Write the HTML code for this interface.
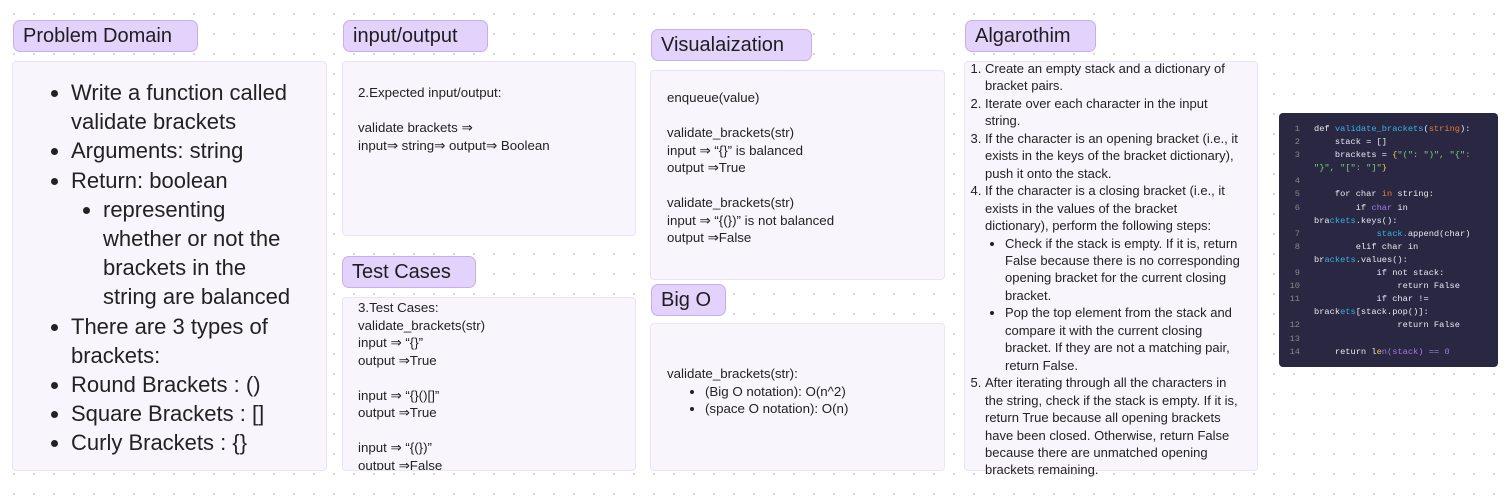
<!DOCTYPE html>
<html><head><meta charset="utf-8"><style>
body{margin:0;width:1510px;height:498px;background:#fff;position:relative;overflow:hidden;font-family:"Liberation Sans",sans-serif;color:#222;
background-image:radial-gradient(circle,#d4d4dc 1px,transparent 1.2px);background-size:20px 20px;background-position:4px 4px}
.tag{position:absolute;background:#e3d2fb;border:1px solid #c8aef0;border-radius:7px;font-size:20px;line-height:30px;padding:0 9px;box-sizing:border-box;height:32px;color:#1e1e1e}
.card{position:absolute;background:#f8f5fd;border:1px solid #ebe3f7;border-radius:4px;box-sizing:border-box;font-size:13.3px;line-height:17.5px;color:#222}
ul,ol{margin:0}
ul{list-style:disc}
ul ul,ol ul{list-style:disc}
.alg{white-space:nowrap;font-size:13px;line-height:17.45px}
.code{position:absolute;left:1279px;top:113px;width:219px;height:254px;background:#2a2742;border-radius:4px;font-family:"Liberation Mono",monospace;font-size:8.7px;line-height:13.1px;color:#e8e8f0;padding:10px 0 0 0;box-sizing:border-box}
.code div{white-space:pre;position:relative;padding-left:35px}
.code span.n{position:absolute;left:6px;color:#888;width:15px;text-align:right}
.b{color:#3ab0e0}.o{color:#e07a3a}.p{color:#a07be0}.y{color:#e8c84a}.g{color:#7ed07e}
</style></head><body>
<div class="tag" style="left:13px;top:20px;width:185px">Problem Domain</div>
<div class="card" style="left:12px;top:61px;width:315px;height:410px;font-size:22px;line-height:29.2px;padding:16px 26px 0 0">
<ul style="padding-left:58px">
<li>Write a function called validate brackets</li>
<li>Arguments: string</li>
<li>Return: boolean<ul style="padding-left:32px"><li>representing whether or not the brackets in the string are balanced</li></ul></li>
<li>There are 3 types of brackets:</li>
<li>Round Brackets : ()</li>
<li>Square Brackets : []</li>
<li>Curly Brackets : {}</li>
</ul></div>

<div class="tag" style="left:343px;top:20px;width:145px">input/output</div>
<div class="card" style="left:342px;top:61px;width:294px;height:175px;padding:22px 0 0 15px">2.Expected input/output:<br><br>validate brackets ⇒<br>input⇒ string⇒ output⇒ Boolean</div>

<div class="tag" style="left:342px;top:256px;width:134px">Test Cases</div>
<div class="card" style="left:342px;top:297px;width:294px;height:174px;padding:1px 0 0 15px;overflow:hidden">3.Test Cases:<br>validate_brackets(str)<br>input ⇒ “{}”<br>output ⇒True<br><br>input ⇒ “{}()[]”<br>output ⇒True<br><br>input ⇒ “{(})”<br>output ⇒False</div>

<div class="tag" style="left:651px;top:29px;width:161px">Visualaization</div>
<div class="card" style="left:650px;top:70px;width:295px;height:210px;padding:18px 0 0 16px">enqueue(value)<br><br>validate_brackets(str)<br>input ⇒ “{}” is balanced<br>output ⇒True<br><br>validate_brackets(str)<br>input ⇒ “{(})” is not balanced<br>output ⇒False</div>

<div class="tag" style="left:651px;top:284px;width:75px">Big O</div>
<div class="card" style="left:650px;top:323px;width:295px;height:148px;padding:41px 0 0 16px">validate_brackets(str):<ul style="padding-left:38px"><li>(Big O notation): O(n^2)</li><li>(space O notation): O(n)</li></ul></div>

<div class="tag" style="left:965px;top:20px;width:131px">Algarothim</div>
<div class="card alg" style="left:964px;top:61px;width:294px;height:410px">
<ol style="padding-left:20px;margin-top:-2px">
<li>Create an empty stack and a dictionary of<br>bracket pairs.</li>
<li>Iterate over each character in the input<br>string.</li>
<li>If the character is an opening bracket (i.e., it<br>exists in the keys of the bracket dictionary),<br>push it onto the stack.</li>
<li>If the character is a closing bracket (i.e., it<br>exists in the values of the bracket<br>dictionary), perform the following steps:<ul style="padding-left:20px;list-style-type:disc"><li>Check if the stack is empty. If it is, return<br>False because there is no corresponding<br>opening bracket for the current closing<br>bracket.</li><li>Pop the top element from the stack and<br>compare it with the current closing<br>bracket. If they are not a matching pair,<br>return False.</li></ul></li>
<li>After iterating through all the characters in<br>the string, check if the stack is empty. If it is,<br>return True because all opening brackets<br>have been closed. Otherwise, return False<br>because there are unmatched opening<br>brackets remaining.</li>
</ol></div>

<div class="code">
<div><span class="n">1</span>def <span class="b">validate_brackets</span>(<span class="o">string</span>):</div>
<div><span class="n">2</span>    stack = []</div>
<div><span class="n">3</span>    brackets = <span class="y">{</span><span class="g">"(": ")", "{":</span></div>
<div><span class="g">"}", "[": "]"</span><span class="y">}</span></div>
<div><span class="n">4</span> </div>
<div><span class="n">5</span>    for char <span class="o">in</span> string:</div>
<div><span class="n">6</span>        if <span class="p">char</span> in</div>
<div>bra<span class="b">ckets</span>.keys():</div>
<div><span class="n">7</span>            <span class="b">stack.</span>append(char)</div>
<div><span class="n">8</span>        elif char in</div>
<div>br<span class="b">ackets</span>.values():</div>
<div><span class="n">9</span>            if not stack:</div>
<div><span class="n">10</span>                return False</div>
<div><span class="n">11</span>            if char !=</div>
<div>brack<span class="b">ets</span>[stack.pop()]:</div>
<div><span class="n">12</span>                return False</div>
<div><span class="n">13</span> </div>
<div><span class="n">14</span>    return l<span class="y">e</span><span class="p">n(stack) == 0</span></div>
</div>
</body></html>
